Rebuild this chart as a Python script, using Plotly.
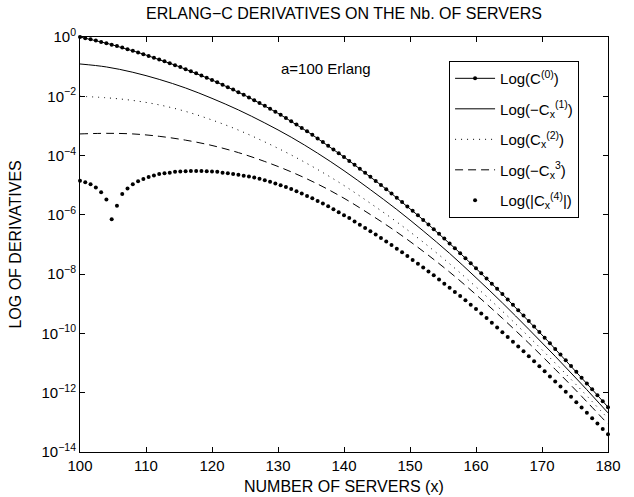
import numpy as np
import plotly.graph_objects as go

# ---- data (log10 of each quantity) ----
x_dense = np.linspace(100, 180, 101)          # sample grid with markers (step 0.8)
x_line = list(range(100, 181, 4))             # grid for the plain line series

log_c0 = [0, -0.038, -0.079, -0.121, -0.165, -0.210, -0.258, -0.307, -0.358, -0.411,
          -0.466, -0.521, -0.579, -0.637, -0.697, -0.758, -0.820, -0.884, -0.949, -1.016,
          -1.084, -1.154, -1.225, -1.299, -1.373, -1.450, -1.529, -1.609, -1.691, -1.775,
          -1.861, -1.949, -2.039, -2.131, -2.226, -2.322, -2.421, -2.522, -2.626, -2.733,
          -2.842, -2.954, -3.067, -3.183, -3.301, -3.421, -3.543, -3.667, -3.793, -3.920,
          -4.049, -4.179, -4.311, -4.445, -4.580, -4.716, -4.854, -4.994, -5.135, -5.278,
          -5.422, -5.568, -5.716, -5.865, -6.017, -6.170, -6.325, -6.482, -6.640, -6.801,
          -6.963, -7.126, -7.292, -7.460, -7.629, -7.799, -7.971, -8.145, -8.320, -8.496,
          -8.674, -8.853, -9.033, -9.215, -9.398, -9.582, -9.767, -9.954, -10.142, -10.331,
          -10.522, -10.714, -10.906, -11.101, -11.296, -11.492, -11.689, -11.887, -12.086, -12.286,
          -12.487]

log_c4 = [-4.85, -4.90, -4.97, -5.08, -5.24, -5.48, -6.15, -5.69, -5.30, -5.11,
          -4.97, -4.87, -4.79, -4.72, -4.67, -4.62, -4.60, -4.58, -4.55, -4.54,
          -4.53, -4.52, -4.52, -4.52, -4.53, -4.54, -4.55, -4.58, -4.60, -4.62,
          -4.65, -4.68, -4.71, -4.74, -4.78, -4.83, -4.88, -4.94, -5.00, -5.06,
          -5.13, -5.20, -5.28, -5.36, -5.44, -5.53, -5.62, -5.71, -5.81, -5.91,
          -6.01, -6.11, -6.22, -6.33, -6.44, -6.55, -6.66, -6.78, -6.90, -7.02,
          -7.14, -7.26, -7.39, -7.52, -7.65, -7.78, -7.91, -8.04, -8.18, -8.32,
          -8.46, -8.60, -8.74, -8.88, -9.03, -9.18, -9.33, -9.48, -9.64, -9.80,
          -9.96, -10.12, -10.28, -10.44, -10.60, -10.77, -10.94, -11.11, -11.28, -11.45,
          -11.62, -11.79, -11.97, -12.14, -12.32, -12.50, -12.68, -12.86, -13.04, -13.22,
          -13.40]

log_c1 = [-0.91, -1.01, -1.19, -1.43, -1.72, -2.07, -2.46, -2.90, -3.38, -3.92, -4.51,
          -5.15, -5.82, -6.54, -7.30, -8.12, -8.97, -9.86, -10.77, -11.71, -12.68]
log_c2 = [-2.00, -2.05, -2.14, -2.29, -2.51, -2.80, -3.14, -3.54, -3.98, -4.47, -5.01,
          -5.61, -6.24, -6.92, -7.65, -8.43, -9.25, -10.11, -11.00, -11.92, -12.87]
log_c3 = [-3.27, -3.25, -3.27, -3.35, -3.48, -3.66, -3.90, -4.20, -4.55, -4.96, -5.44,
          -5.99, -6.58, -7.23, -7.93, -8.69, -9.49, -10.33, -11.21, -12.12, -13.06]

names = ["Log(C<sup>(0)</sup>)",
         "Log(\u2212C<sub>x</sub><sup>(1)</sup>)",
         "Log(C<sub>x</sub><sup>(2)</sup>)",
         "Log(\u2212C<sub>x</sub><sup>3</sup>)",
         "Log(|C<sub>x</sub><sup>(4)</sup>|)"]

x_ticks = [100, 110, 120, 130, 140, 150, 160, 170, 180]
y_exps = [0, -2, -4, -6, -8, -10, -12, -14]

FONT = "Liberation Sans, Arial, Helvetica, sans-serif"
BLACK = "#000000"

def pw(v):
    return [10.0 ** e for e in v]

fig = go.Figure()
fig.add_trace(go.Scatter(x=x_dense, y=pw(log_c0), mode="lines+markers", name=names[0],
                         legendgroup="g0",
                         line=dict(color=BLACK, width=1), marker=dict(color=BLACK, size=4),
                         cliponaxis=False))
fig.add_trace(go.Scatter(x=x_line, y=pw(log_c1), mode="lines", name=names[1],
                         legendgroup="g1",
                         line=dict(color=BLACK, width=1, shape="spline")))
fig.add_trace(go.Scatter(x=x_line, y=pw(log_c2), mode="lines", name=names[2],
                         legendgroup="g2",
                         line=dict(color=BLACK, width=1, dash="1px,5px", shape="spline")))
fig.add_trace(go.Scatter(x=x_line, y=pw(log_c3), mode="lines", name=names[3],
                         legendgroup="g3",
                         line=dict(color=BLACK, width=1, dash="8px,5px", shape="spline")))
fig.add_trace(go.Scatter(x=x_dense, y=pw(log_c4), mode="markers", name=names[4],
                         legendgroup="g4",
                         marker=dict(color=BLACK, size=4), cliponaxis=False))

axis_common = dict(showline=True, linecolor=BLACK, linewidth=1, mirror="ticks",
                   ticks="inside", ticklen=5, tickcolor=BLACK, tickwidth=1,
                   showgrid=False, zeroline=False,
                   tickfont=dict(family=FONT, size=15, color=BLACK))

fig.update_xaxes(range=[100, 180], tickvals=x_ticks, ticktext=[str(v) for v in x_ticks],
                 **axis_common)
fig.update_yaxes(type="log", range=[-14, 0], tickvals=[10.0 ** e for e in y_exps],
                 ticktext=["10<sup>%s</sup>" % (str(e).replace("-", "\u2212")) for e in y_exps],
                 **axis_common)

fig.update_layout(
    width=634, height=497,
    margin=dict(l=80, r=26, t=37, b=45),
    paper_bgcolor="white", plot_bgcolor="white",
    font=dict(family=FONT, color=BLACK),
    title=dict(text="ERLANG\u2212C DERIVATIVES ON THE Nb. OF SERVERS",
               x=0.5426, xanchor="center", y=0.974, yanchor="middle",
               font=dict(family=FONT, size=16, color=BLACK)),
    legend=dict(x=0.699, y=0.942, xanchor="left", yanchor="top",
                bordercolor=BLACK, borderwidth=1, bgcolor="white",
                font=dict(family=FONT, size=15, color=BLACK),
                tracegroupgap=8, itemwidth=40),
    annotations=[
        dict(text="a=100 Erlang", x=0.466, y=0.925, xref="paper", yref="paper",
             showarrow=False, xanchor="center", yanchor="middle",
             font=dict(family=FONT, size=15, color=BLACK)),
        dict(text="NUMBER OF SERVERS (x)", x=0.5, y=-0.0843, xref="paper", yref="paper",
             showarrow=False, xanchor="center", yanchor="middle",
             font=dict(family=FONT, size=16, color=BLACK)),
        dict(text="LOG OF DERIVATIVES", x=-0.123, y=0.5, xref="paper", yref="paper",
             showarrow=False, xanchor="center", yanchor="middle", textangle=-90,
             font=dict(family=FONT, size=16, color=BLACK)),
    ],
)

fig.write_html("out.html")
